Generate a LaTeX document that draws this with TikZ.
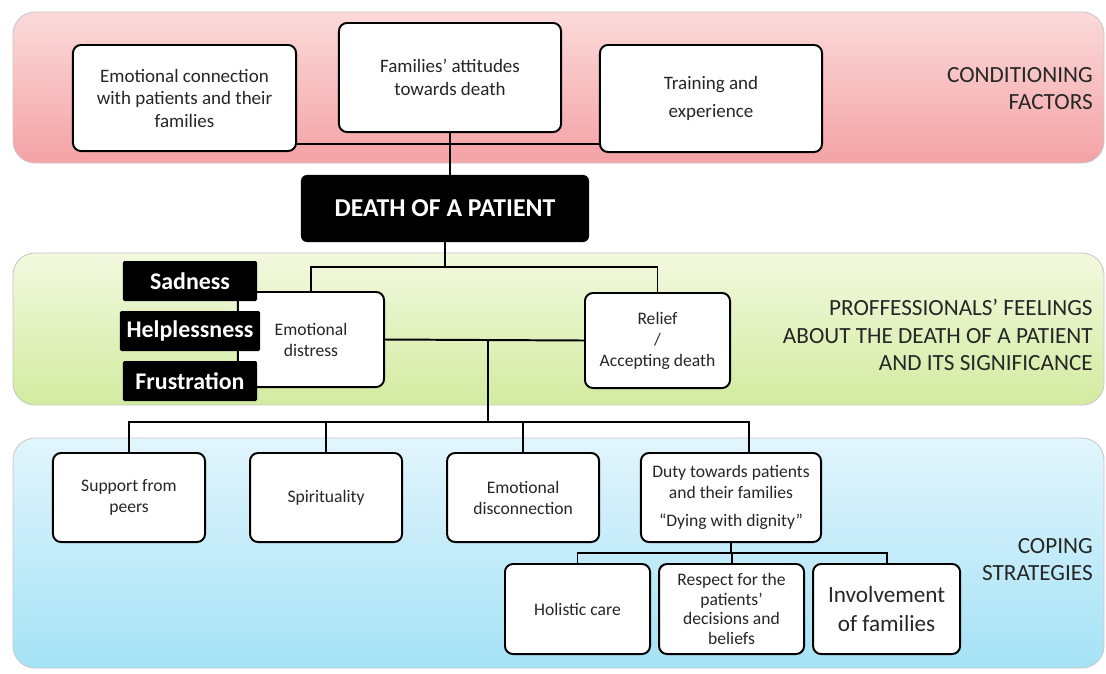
\documentclass[tikz,border=0pt]{standalone}
\usepackage{fontspec}
\setmainfont{Carlito}
\usetikzlibrary{positioning}
\definecolor{redtop}{HTML}{FBDADA}
\definecolor{redbot}{HTML}{F4A2A5}
\definecolor{greentop}{HTML}{F2F9DF}
\definecolor{greenbot}{HTML}{D3EBA0}
\definecolor{bluetop}{HTML}{E2F5FC}
\definecolor{bluebot}{HTML}{A5E2F6}
\begin{document}
\begin{tikzpicture}[x=0.025cm, y=-0.025cm, node distance=1.25cm,
  band/.style={rounded corners=0.55cm, draw=black!22, line width=0.6pt},
  card/.style={draw=black, line width=1.4pt, rounded corners=0.2cm, fill=white, align=center,
    text=black!85, inner sep=2pt, font=\fontsize{12.5}{15}\selectfont},
  topcard/.style={card, font=\fontsize{13.5}{16}\selectfont},
  darkcard/.style={fill=black, text=white, align=center, inner sep=2pt, rounded corners=1pt,
    font=\fontsize{17}{20}\selectfont\bfseries},
  heading/.style={anchor=east, align=right, inner sep=0pt, text=black!85,
    font=\fontsize{16.5}{19.5}\selectfont},
  link/.style={line width=1.4pt}]
\useasboundingbox (0,0) rectangle (1106,673);
% bands
\shadedraw[band, top color=redtop, bottom color=redbot] (13,12) rectangle (1104,163);
\shadedraw[band, top color=greentop, bottom color=greenbot] (13,253) rectangle (1104,405);
\shadedraw[band, top color=bluetop, bottom color=bluebot] (13,438) rectangle (1104,668);
% conditioning factors
\node[topcard, minimum width=5.575cm, minimum height=2.65cm] (emo) at (184.5,98) {Emotional connection\\with patients and their\\families};
\node[topcard, minimum width=5.55cm, minimum height=2.725cm] (fam) at (450,77.5) {Families’ attitudes\\towards death};
\node[topcard, minimum width=5.55cm, minimum height=2.675cm] (train) at (711,98.5) {Training and\\[4pt]experience};
\node[heading] (condlabel) at (1093,88.5) {CONDITIONING\\FACTORS};
\node[darkcard, rounded corners=0.15cm, minimum width=7.2cm, minimum height=1.675cm,
  font=\fontsize{18.3}{22}\selectfont\bfseries] (death) at (445,208.5) {DEATH OF A PATIENT};
% feelings
\node[card, minimum width=3.65cm, minimum height=2.375cm] (distress) at (311,339.5) {Emotional\\distress};
\node[darkcard, minimum width=3.35cm, minimum height=1cm] (sadness) at (190,281) {Sadness};
\node[darkcard, minimum width=3.5cm, minimum height=1cm, below of=sadness] (help) {Helplessness};
\node[darkcard, minimum width=3.35cm, minimum height=1cm, below of=help] (frus) {Frustration};
\node[card, minimum width=3.625cm, minimum height=2.375cm] (relief) at (657.5,340.5) {Relief\\/\\Accepting death};
\node[heading] (feellabel) at (1093,335) {PROFFESSIONALS’ FEELINGS\\ABOUT THE DEATH OF A PATIENT\\AND ITS SIGNIFICANCE};
% coping strategies
\node[card, minimum width=3.8cm, minimum height=2.225cm] (peers) at (129,497.5) {Support from\\peers};
\node[card, minimum width=3.8cm, minimum height=2.225cm, right of=peers, node distance=4.925cm] (spirit) {Spirituality};
\node[card, minimum width=3.8cm, minimum height=2.225cm, right of=spirit, node distance=4.925cm] (disc) {Emotional\\disconnection};
\node[card, minimum width=4.5cm, minimum height=2.225cm] (duty) at (731,497.5) {Duty towards patients\\and their families\\[5pt]“Dying with dignity”};
\node[card, minimum width=3.625cm, minimum height=2.25cm] (holistic) at (577.5,609) {Holistic care};
\node[card, minimum width=3.625cm, minimum height=2.25cm, right of=holistic, node distance=3.85cm,
  font=\fontsize{12.5}{14}\selectfont] (respect) {Respect for the\\patients’\\decisions and\\beliefs};
\node[card, minimum width=3.675cm, minimum height=2.25cm, right of=respect, node distance=3.875cm,
  font=\fontsize{16.5}{21}\selectfont] (involve) {Involvement\\of families};
\node[heading] (copelabel) at (1093,559.5) {COPING\\STRATEGIES};
% connectors
\coordinate (factorbar) at (0,144);
\coordinate (feelbar) at (0,267);
\coordinate (copebar) at (0,422);
\coordinate (dutybar) at (0,553);
\coordinate (fork) at (488,339);
\coordinate (dutytop) at ([xshift=0.45cm]duty.north);
\draw[link] (emo.east |- factorbar) -- (train.west |- factorbar);
\draw[link] (fam.south) -- (fam.south |- death.north);
\draw[link] (death.south) -- (death.south |- feelbar);
\draw[link] (distress.north) -- (distress.north |- feelbar) -- (relief.north |- feelbar) -- (relief.north);
\draw[link] (distress.east) -- (relief.west);
\draw[link] (fork) -- (fork |- copebar);
\draw[link] (peers.north) -- (peers.north |- copebar) -- (dutytop |- copebar) -- (dutytop);
\foreach \n in {spirit,disc}
  \draw[link] (\n.north) -- (\n.north |- copebar);
\draw[link] (duty.south) -- (duty.south |- dutybar);
\draw[link] (holistic.north) -- (holistic.north |- dutybar) -- (involve.north |- dutybar) -- (involve.north);
\draw[link] (respect.north) -- (respect.north |- dutybar);
\end{tikzpicture}
\end{document}
